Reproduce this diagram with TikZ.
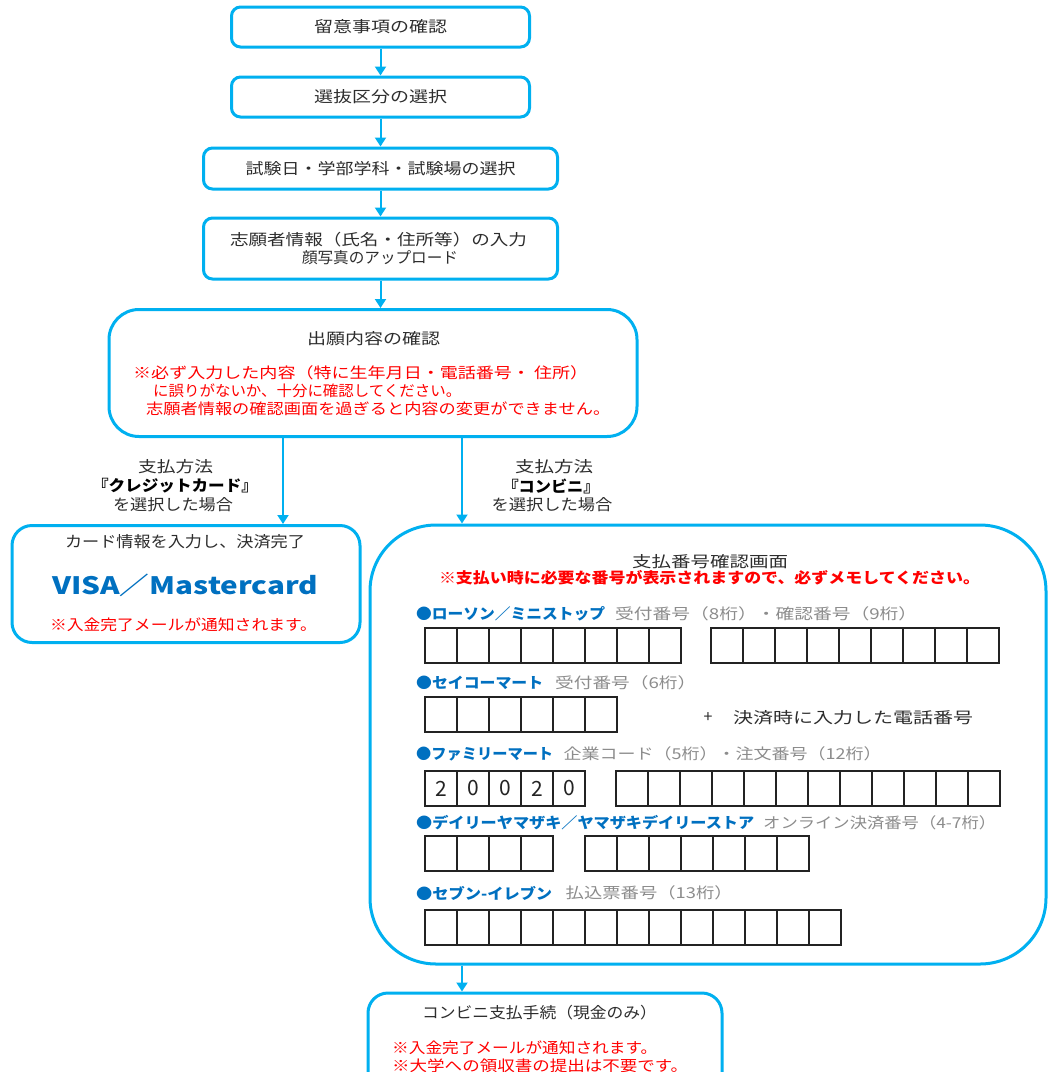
\documentclass[tikz,border=0pt]{standalone}
\usepackage{fontspec}
\setmainfont{Noto Sans CJK JP}
\usetikzlibrary{arrows.meta}
\definecolor{frame}{RGB}{0,176,240}
\definecolor{txt}{RGB}{45,45,45}
\definecolor{bluet}{RGB}{0,112,192}
\definecolor{grayt}{RGB}{140,140,140}
\definecolor{redt}{RGB}{255,0,0}
\definecolor{cellc}{RGB}{35,35,35}
\newcommand{\fw}[2]{\resizebox{#1pt}{\height}{#2}}
\newcommand{\cellrow}[3]{%
  \foreach \i in {1,...,#3} {\draw[cell] ({#1+(\i-1)*32},#2) rectangle ++(32,35);}}
\begin{document}
\begin{tikzpicture}[x=1pt,y=-1pt,
  box/.style={draw=frame, line width=3pt, rounded corners=9pt, fill=white, inner sep=0pt},
  lbl/.style={inner sep=0pt, text=txt, font=\fontsize{15.5}{18}\selectfont},
  redl/.style={inner sep=0pt, text=redt, font=\fontsize{15}{18}\selectfont},
  bluel/.style={inner sep=0pt, text=bluet, font=\fontsize{15}{18}\selectfont\bfseries},
  grayl/.style={inner sep=0pt, text=grayt, font=\fontsize{15}{18}\selectfont},
  flow/.style={draw=frame, line width=2pt, -{Triangle[width=11pt,length=9pt]}},
  cell/.style={draw=cellc, line width=1.6pt}]
\useasboundingbox (0,0) rectangle (1049,1072);
\fill[white] (0,0) rectangle (1049,1072);

% top chain
\node[box, minimum width=298pt, minimum height=40pt] (b1) at (380.5,27) {};
\node[lbl] (t1) at (380.5,27) {\fw{133}{留意事項の確認}};
\node[box, minimum width=298pt, minimum height=40pt] (b2) at (380.5,97) {};
\node[lbl] (t2) at (380.5,97) {\fw{133}{選抜区分の選択}};
\node[box, minimum width=354pt, minimum height=41pt] (b3) at (380.5,168.5) {};
\node[lbl] (t3) at (380.5,168.5) {\fw{270}{試験日・学部学科・試験場の選択}};
\node[box, minimum width=354pt, minimum height=61pt] (b4) at (380.5,248.5) {};
\node[lbl] (t4a) at (378.5,240) {\fw{297}{志願者情報（氏名・住所等）の入力}};
\node[lbl] (t4b) at (380,258) {\fw{156}{顔写真のアップロード}};

% confirmation box
\node[box, rounded corners=30pt, minimum width=528pt, minimum height=127pt] (b5) at (373,373) {};
\node[lbl] (t5) at (373.5,339) {\fw{133}{出願内容の確認}};
\node[redl, anchor=west] (r5a) at (133,373) {\fw{455}{※必ず入力した内容（特に生年月日・電話番号・ 住所）}};
\node[redl, anchor=west] (r5b) at (153,391) {\fw{308}{に誤りがないか、十分に確認してください。}};
\node[redl, anchor=west] (r5c) at (146,409) {\fw{464}{志願者情報の確認画面を過ぎると内容の変更ができません。}};

% credit card branch
\node[lbl] (l1a) at (175.5,467) {\fw{75}{支払方法}};
\node[lbl, font=\fontsize{15.5}{18}\selectfont\bfseries, text=black] (l1b) at (175,486) {\fw{166}{『クレジットカード』}};
\node[lbl] (l1c) at (173,505) {\fw{120}{を選択した場合}};
\node[box, rounded corners=20pt, minimum width=348pt, minimum height=117pt] (b6) at (186,584) {};
\node[lbl] (t6a) at (185,542) {\fw{240}{カード情報を入力し、決済完了}};
\node[inner sep=0pt, text=bluet, font=\fontsize{24}{28}\selectfont\bfseries] (t6b) at (185,585) {\fw{266}{VISA／Mastercard}};
\node[redl] (t6c) at (183.5,625) {\fw{267}{※入金完了メールが通知されます。}};

% convenience store branch
\node[lbl] (l2a) at (554,467) {\fw{78}{支払方法}};
\node[lbl, font=\fontsize{15.5}{18}\selectfont\bfseries, text=black] (l2b) at (551,486) {\fw{97}{『コンビニ』}};
\node[lbl] (l2c) at (552,505) {\fw{121}{を選択した場合}};
\node[box, rounded corners=66pt, minimum width=676pt, minimum height=439pt] (b7) at (708,744.5) {};
\node[lbl] (t7a) at (710,562) {\fw{156}{支払番号確認画面}};
\node[redl, font=\fontsize{15}{18}\selectfont\bfseries] (t7b) at (709.5,578) {\fw{541}{※支払い時に必要な番号が表示されますので、必ずメモしてください。}};

\node[bluel, anchor=west] (h1) at (416,614) {\fw{189}{●ローソン／ミニストップ}};
\node[grayl, anchor=west] (g1) at (615,614) {\fw{302}{受付番号（8桁）・確認番号（9桁）}};
\cellrow{425}{628}{8}
\cellrow{711}{628}{9}

\node[bluel, anchor=west] (h2) at (416,683) {\fw{127}{●セイコーマート}};
\node[grayl, anchor=west] (g2) at (555,683) {\fw{141}{受付番号（6桁）}};
\cellrow{425}{697}{6}
\node[lbl, font=\fontsize{16}{18}\selectfont] (plus) at (708,718) {+};
\node[lbl, anchor=west] (tel) at (733,718) {\fw{240}{決済時に入力した電話番号}};

\node[bluel, anchor=west] (h3) at (416,754) {\fw{137}{●ファミリーマート}};
\node[grayl, anchor=west] (g3) at (563.5,754) {\fw{318}{企業コード（5桁）・注文番号（12桁）}};
\cellrow{425}{771}{5}
\cellrow{616}{771}{12}
\foreach \d [count=\k] in {2,0,0,2,0}
  \node[inner sep=0pt, text=cellc, font=\fontsize{21}{24}\selectfont] (d\k) at ({425+(\k-0.5)*32},788.5) {\d};

\node[bluel, anchor=west] (h4) at (416,823) {\fw{338}{●デイリーヤマザキ／ヤマザキデイリーストア}};
\node[grayl, anchor=west] (g4) at (763,823) {\fw{233}{オンライン決済番号（4-7桁）}};
\cellrow{425}{836}{4}
\cellrow{585}{836}{7}

\node[bluel, anchor=west] (h5) at (416,893) {\fw{136}{●セブン-イレブン}};
\node[grayl, anchor=west] (g5) at (565.5,893) {\fw{167}{払込票番号（13桁）}};
\cellrow{425}{910}{13}

% final box
\node[box, rounded corners=20pt, minimum width=354pt, minimum height=160pt] (b8) at (545,1073) {};
\node[lbl] (t8a) at (539.5,1013) {\fw{235}{コンビニ支払手続（現金のみ）}};
\node[redl, anchor=west] (t8b) at (392,1048) {\fw{265}{※入金完了メールが通知されます。}};
\node[redl, anchor=west] (t8c) at (392,1066) {\fw{296}{※大学への領収書の提出は不要です。}};

% connectors
\coordinate (lx) at (283,0);
\coordinate (rx) at (462,0);
\draw[flow] (b1) -- (b2);
\draw[flow] (b2) -- (b3);
\draw[flow] (b3) -- (b4);
\draw[flow] (b4.south) -- (b5.north -| b4.south);
\draw[flow] (b5.south -| lx) -- (b6.north -| lx);
\draw[flow] (b5.south -| rx) -- (b7.north -| rx);
\draw[flow] (b7.south -| rx) -- (b8.north -| rx);
\end{tikzpicture}
\end{document}
